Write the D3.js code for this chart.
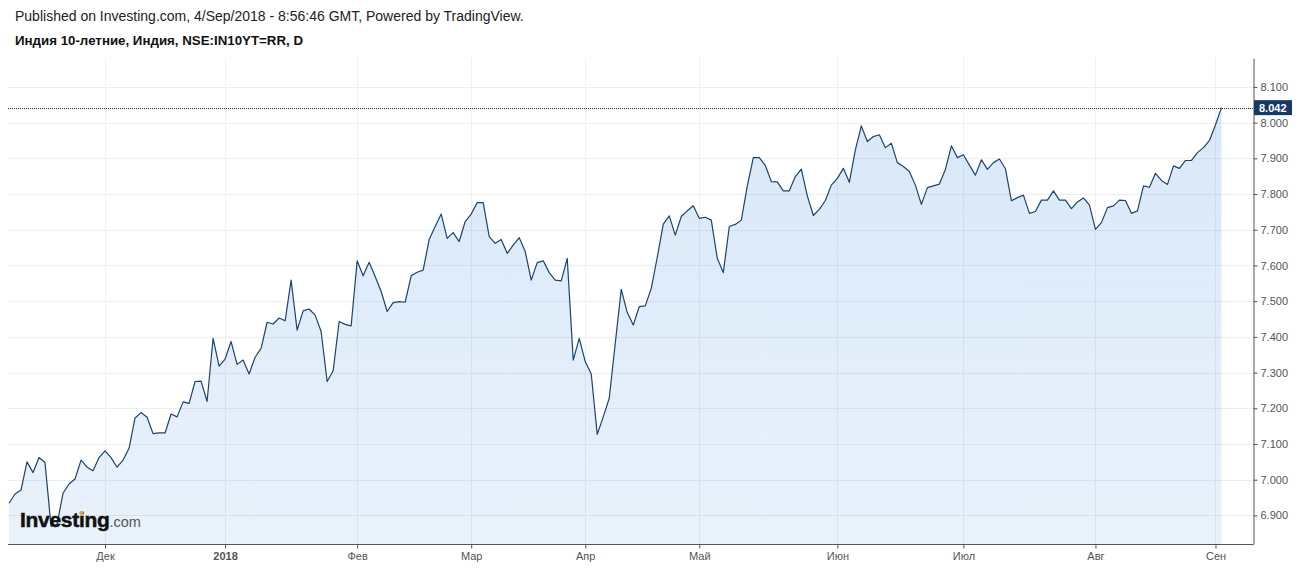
<!DOCTYPE html>
<html>
<head>
<meta charset="utf-8">
<script src="https://cdn.jsdelivr.net/npm/d3@7"></script>
<style>
  body { margin: 0; background: #fff; }
  svg { display: block; font-family: "Liberation Sans", Arial, sans-serif; }
</style>
</head>
<body>
<svg id="chart" width="1299" height="568"></svg>
<script>
// India 10Y yield, one value per trading day (Nov 2017 - 4 Sep 2018)
var yields = [
  6.934, 6.960, 6.971, 7.050, 7.020, 7.062, 7.048, 6.870, 6.875, 6.962,
  6.988, 7.002, 7.055, 7.035, 7.025, 7.062, 7.081, 7.062, 7.035, 7.055,
  7.088, 7.173, 7.188, 7.175, 7.129, 7.131, 7.131, 7.184, 7.176, 7.218,
  7.214, 7.275, 7.276, 7.219, 7.396, 7.318, 7.338, 7.387, 7.323, 7.335,
  7.296, 7.343, 7.368, 7.441, 7.436, 7.453, 7.445, 7.559, 7.419, 7.473,
  7.478, 7.461, 7.415, 7.275, 7.305, 7.443, 7.435, 7.431, 7.613, 7.571,
  7.609, 7.569, 7.527, 7.471, 7.496, 7.499, 7.497, 7.571, 7.581, 7.587,
  7.673, 7.709, 7.744, 7.676, 7.692, 7.667, 7.723, 7.744, 7.776, 7.776,
  7.681, 7.662, 7.673, 7.634, 7.657, 7.678, 7.639, 7.559, 7.608, 7.613,
  7.580, 7.559, 7.557, 7.620, 7.335, 7.396, 7.331, 7.296, 7.127, 7.176,
  7.228, 7.382, 7.533, 7.468, 7.433, 7.485, 7.487, 7.536, 7.623, 7.716,
  7.739, 7.685, 7.737, 7.753, 7.767, 7.732, 7.735, 7.727, 7.620, 7.580,
  7.709, 7.715, 7.727, 7.823, 7.902, 7.902, 7.880, 7.835, 7.834, 7.809,
  7.809, 7.849, 7.870, 7.795, 7.740, 7.757, 7.782, 7.825, 7.844, 7.872,
  7.833, 7.924, 7.991, 7.947, 7.961, 7.966, 7.930, 7.942, 7.888, 7.877,
  7.863, 7.825, 7.771, 7.818, 7.823, 7.828, 7.869, 7.935, 7.902, 7.910,
  7.881, 7.853, 7.896, 7.869, 7.888, 7.898, 7.871, 7.781, 7.790, 7.797,
  7.746, 7.751, 7.783, 7.783, 7.809, 7.783, 7.783, 7.759, 7.778, 7.789,
  7.769, 7.701, 7.720, 7.762, 7.767, 7.783, 7.782, 7.746, 7.753, 7.823,
  7.819, 7.858, 7.838, 7.827, 7.879, 7.872, 7.894, 7.894, 7.916, 7.930,
  7.950, 7.994, 8.042
]

// month ticks: label + index of the first trading day of that month
var monthLabels = ["Дек", "2018", "Фев", "Мар", "Апр", "Май", "Июн", "Июл", "Авг", "Сен"]
var monthIndex = [16, 36, 58, 77, 96, 115, 138, 159, 181, 201]

var yTicks = [6.9, 7.0, 7.1, 7.2, 7.3, 7.4, 7.5, 7.6, 7.7, 7.8, 7.9, 8.0, 8.1]

var headerLine = "Published on Investing.com, 4/Sep/2018 - 8:56:46 GMT, Powered by TradingView."
var titleLine = "Индия 10-летние, Индия, NSE:IN10YT=RR, D"

window.onload = () => {
  draw_chart()
}

function draw_chart() {
  var svg = d3.select("#chart")

  // plot box
  var left = 8, right = 1253, top = 58, bottom = 544

  var x = d3.scaleLinear()
    .domain([0, yields.length - 1])
    .range([9, 1221.5])

  var y = d3.scaleLinear()
    .domain([6.82, 8.181])
    .range([bottom, top])

  // header
  svg.append("text")
    .attr("x", 15).attr("y", 21)
    .style("font-size", "14px")
    .attr("fill", "#222")
    .text(headerLine)
  svg.append("text")
    .attr("x", 15).attr("y", 45)
    .style("font-size", "13.3px")
    .style("font-weight", "bold")
    .attr("fill", "#111")
    .text(titleLine)

  // gradient for the area
  var grad = svg.append("defs").append("linearGradient")
    .attr("id", "areaGrad")
    .attr("gradientUnits", "userSpaceOnUse")
    .attr("x1", 0).attr("x2", 0)
    .attr("y1", top).attr("y2", bottom)
  grad.append("stop").attr("offset", "0%").attr("stop-color", "rgb(41,125,214)").attr("stop-opacity", 0.19)
  grad.append("stop").attr("offset", "100%").attr("stop-color", "rgb(41,125,214)").attr("stop-opacity", 0.1)

  // grid
  var grid = svg.append("g")
  grid.selectAll("line.h")
    .data(yTicks)
    .enter()
    .append("line")
      .attr("class", "h")
      .attr("x1", left).attr("x2", right)
      .attr("y1", d => Math.round(y(d)) + 0.5)
      .attr("y2", d => Math.round(y(d)) + 0.5)
      .attr("stroke", "#eeeeee")
  grid.selectAll("line.v")
    .data(monthIndex)
    .enter()
    .append("line")
      .attr("class", "v")
      .attr("x1", d => Math.round(x(d)) + 0.5)
      .attr("x2", d => Math.round(x(d)) + 0.5)
      .attr("y1", top).attr("y2", bottom)
      .attr("stroke", "#f0f0f0")

  // area + line
  svg.append("path")
    .datum(yields)
    .attr("fill", "url(#areaGrad)")
    .attr("d", d3.area()
      .x((d, i) => x(i))
      .y0(bottom)
      .y1(d => y(d))
    )

  svg.append("path")
    .datum(yields)
    .attr("fill", "none")
    .attr("stroke", "#1b4472")
    .attr("stroke-width", 1.2)
    .attr("stroke-linejoin", "round")
    .attr("d", d3.line()
      .x((d, i) => x(i))
      .y(d => y(d))
    )

  // last price dotted line
  var lastValue = yields[yields.length - 1]
  var ly = Math.round(y(lastValue)) + 0.5
  svg.append("line")
    .attr("x1", left).attr("x2", right)
    .attr("y1", ly).attr("y2", ly)
    .attr("stroke", "#222")
    .attr("stroke-dasharray", "1,1")

  // right axis
  var yAxis = svg.append("g")
    .attr("transform", "translate(" + (right + 0.5) + ",0)")
    .call(d3.axisRight(y)
      .tickValues(yTicks)
      .tickFormat(d3.format(".3f"))
      .tickSize(4)
      .tickSizeOuter(0)
      .tickPadding(3))
  yAxis.select(".domain").attr("stroke", "#555")
  yAxis.selectAll(".tick line").attr("stroke", "#555")
  yAxis.selectAll(".tick text")
    .attr("fill", "#555")
    .style("font-size", "11px")
    .style("font-family", "'Liberation Sans', Arial, sans-serif")

  // bottom axis
  var xAxis = svg.append("g")
    .attr("transform", "translate(0," + (bottom + 0.5) + ")")
    .call(d3.axisBottom(x)
      .tickValues(monthIndex)
      .tickFormat((d, i) => monthLabels[i])
      .tickSize(4)
      .tickSizeOuter(0)
      .tickPadding(4))
  xAxis.select(".domain").remove()
  xAxis.append("line")
    .attr("x1", left).attr("x2", right + 0.5)
    .attr("stroke", "#555")
  xAxis.selectAll(".tick line").attr("stroke", "#555")
  xAxis.selectAll(".tick text")
    .attr("fill", "#555")
    .style("font-size", "11px")
    .style("font-family", "'Liberation Sans', Arial, sans-serif")
    .style("font-weight", d => monthLabels[monthIndex.indexOf(d)] == "2018" ? "bold" : "normal")

  // last value tag
  svg.append("rect")
    .attr("x", right + 1)
    .attr("y", y(lastValue) - 7.5)
    .attr("width", 38)
    .attr("height", 15)
    .attr("fill", "#163a63")
  svg.append("text")
    .attr("x", right + 6)
    .attr("y", y(lastValue))
    .attr("dy", "0.36em")
    .attr("fill", "#fff")
    .style("font-size", "11px")
    .style("font-weight", "bold")
    .text(d3.format(".3f")(lastValue))

  // watermark logo
  var logo = svg.append("text")
    .attr("x", 20).attr("y", 527)
  logo.append("tspan")
    .style("font-size", "21px")
    .style("font-weight", "bold")
    .style("letter-spacing", "-0.3px")
    .attr("fill", "#111")
    .attr("stroke", "#111")
    .attr("stroke-width", 0.5)
    .text("Investing")
  logo.append("tspan")
    .style("font-size", "14.5px")
    .attr("fill", "#555")
    .attr("dx", 0)
    .text(".com")
  // orange dot over the second "i"
  var ext = logo.node().getExtentOfChar(6)
  svg.append("circle")
    .attr("cx", ext.x + ext.width / 2 - 0.3)
    .attr("cy", 527 - 14)
    .attr("r", 2.1)
    .attr("fill", "#f7a21b")
}
</script>
</body>
</html>
